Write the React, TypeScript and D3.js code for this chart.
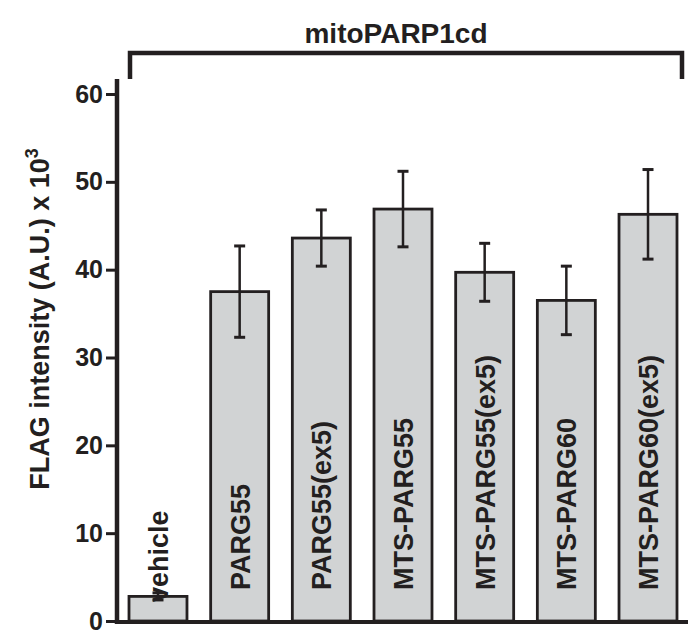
import React, { useEffect, useRef } from 'react';
import * as d3 from 'd3';

const categories = ['vehicle', 'PARG55', 'PARG55(ex5)', 'MTS-PARG55', 'MTS-PARG55(ex5)', 'MTS-PARG60', 'MTS-PARG60(ex5)'];
const means = [2.8, 37.5, 43.6, 46.9, 39.7, 36.5, 46.3];
const errors = [0.4, 5.2, 3.2, 4.3, 3.3, 3.9, 5.1];
const yTicks = [0, 10, 20, 30, 40, 50, 60];
const groupLabel = 'mitoPARP1cd';

const width = 688;
const height = 630;
const ink = '#231f20';
const font = '"Liberation Sans", Arial, Helvetica, sans-serif';

const App = () => {
  const chartRef = useRef<SVGSVGElement>(null);

  useEffect(() => {
    const svg = d3.select(chartRef.current);
    svg.selectAll('*').remove();

    const x = d3.scaleBand<string>()
      .domain(categories)
      .range([129, 677])
      .paddingInner(0.29)
      .paddingOuter(0);

    const y = d3.scaleLinear()
      .domain([0, 60])
      .range([621, 94]);

    const data = categories.map((c, i) => ({ c, m: means[i], e: errors[i] }));
    const cx = (c: string) => (x(c) as number) + x.bandwidth() / 2;

    // bars
    svg.append('g')
      .selectAll('rect')
      .data(data)
      .join('rect')
        .attr('x', d => x(d.c) as number)
        .attr('y', d => y(d.m))
        .attr('width', x.bandwidth())
        .attr('height', d => y(0) - y(d.m))
        .attr('fill', '#d1d3d4')
        .attr('stroke', ink)
        .attr('stroke-width', 2.8);

    // error bars (mean +/- error)
    const eb = svg.append('g')
      .attr('stroke', ink)
      .selectAll('g')
      .data(data)
      .join('g')
        .attr('transform', d => `translate(${cx(d.c)},0)`);

    eb.append('line')
      .attr('y1', d => y(d.m - d.e))
      .attr('y2', d => y(d.m + d.e))
      .attr('stroke-width', 2.5);

    eb.selectAll('line.cap')
      .data(d => [d.m - d.e, d.m + d.e])
      .join('line')
        .attr('class', 'cap')
        .attr('x1', -5.5)
        .attr('x2', 5.5)
        .attr('y1', v => y(v))
        .attr('y2', v => y(v))
        .attr('stroke-width', 3);

    // category labels inside the bars
    svg.append('g')
      .selectAll('text')
      .data(data)
      .join('text')
        .attr('transform', (d, i) => `translate(${cx(d.c) + 10},${i === 0 ? 602 : 590}) rotate(-90)`)
        .attr('font-family', font)
        .attr('font-size', 27)
        .attr('font-weight', 'bold')
        .attr('fill', ink)
        .text(d => d.c);

    // y axis
    const yAxis = svg.append('g')
      .attr('transform', 'translate(117,0)')
      .call(d3.axisLeft(y).tickValues(yTicks).tickSize(11).tickPadding(3).tickSizeOuter(0));
    yAxis.select('.domain').remove();
    yAxis.attr('font-family', font).attr('font-size', 25).attr('font-weight', 'bold');
    yAxis.selectAll('line').attr('stroke', ink).attr('stroke-width', 3);
    yAxis.selectAll('text').attr('fill', ink);

    svg.append('line')
      .attr('x1', 117).attr('x2', 117)
      .attr('y1', 79).attr('y2', y(0) + 3)
      .attr('stroke', ink)
      .attr('stroke-width', 4.5);

    // x axis baseline
    svg.append('line')
      .attr('x1', 115).attr('x2', width)
      .attr('y1', y(0) + 1).attr('y2', y(0) + 1)
      .attr('stroke', ink)
      .attr('stroke-width', 4);

    // group bracket + title
    const bx0 = (x(categories[0]) as number) + 1;
    const bx1 = (x(categories[categories.length - 1]) as number) + x.bandwidth() + 5;
    svg.append('path')
      .attr('d', `M${bx0},79V53H${bx1}V79`)
      .attr('fill', 'none')
      .attr('stroke', ink)
      .attr('stroke-width', 4.5);

    svg.append('text')
      .attr('x', 396)
      .attr('y', 43)
      .attr('text-anchor', 'middle')
      .attr('font-family', font)
      .attr('font-size', 28)
      .attr('font-weight', 'bold')
      .attr('fill', ink)
      .text(groupLabel);

    // y label with superscript
    const yl = svg.append('text')
      .attr('transform', 'translate(49,319) rotate(-90)')
      .attr('text-anchor', 'middle')
      .attr('font-family', font)
      .attr('font-size', 27)
      .attr('font-weight', 'bold')
      .attr('fill', ink);
    yl.append('tspan').text('FLAG intensity (A.U.) x 10');
    yl.append('tspan').attr('dy', -11).attr('font-size', 18).text('3');
  }, []);

  return (
    <svg
      ref={chartRef}
      width={width}
      height={height}
      style={{ position: 'absolute', left: 0, top: 0, display: 'block', background: '#fff' }}
    />
  );
};

export default App;
